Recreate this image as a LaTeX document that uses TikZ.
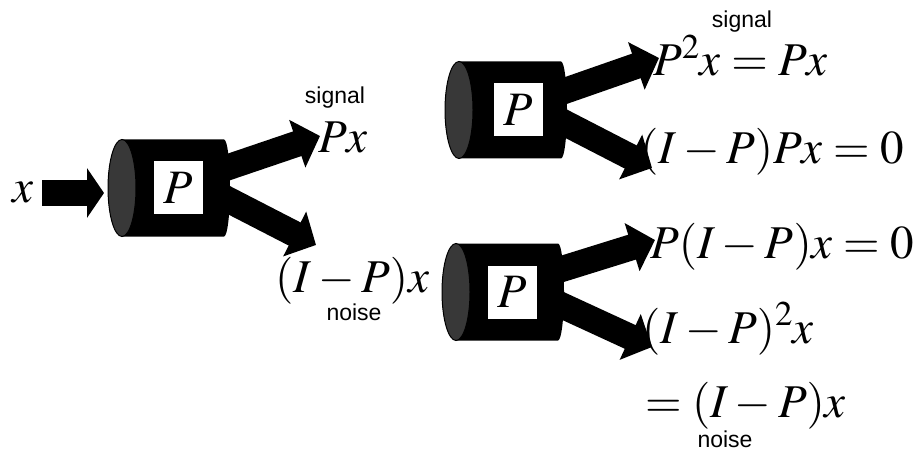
\documentclass[tikz,border=0pt]{standalone}
\usepackage{mathptmx}
\usepackage{fontspec}
\newfontfamily\lblfont{Liberation Sans}
\usetikzlibrary{arrows.meta}
\newcommand{\drawcyl}[4]{%
  \fill[black] (#1,#2-48.5) -- (#1+102,#2-48.5)
    arc[start angle=-90,end angle=90,x radius=6,y radius=48.5]
    -- (#1,#2+48.5) -- cycle;
  \draw[face] (#1,#2) ellipse[x radius=14, y radius=48.5];
  \node[pbox] (#3) at (#1+#4,#2) {$P$};}
\begin{document}
\begin{tikzpicture}[x=1pt,y=-1pt,
  fatarrow/.style={line width=26pt, draw=black, -{Triangle[width=49pt,length=24pt]}},
  inarrow/.style={line width=26pt, draw=black, -{Triangle[width=49pt,length=17pt]}},
  mathlbl/.style={inner sep=0pt, anchor=base west, font=\fontsize{47}{51}\selectfont},
  wordlbl/.style={inner sep=0pt, anchor=base, font=\lblfont\fontsize{23}{26}\selectfont},
  pbox/.style={fill=white, minimum width=49pt, minimum height=53pt, inner sep=0pt, font=\fontsize{48}{52}\selectfont},
  face/.style={fill=black!78, draw=black, line width=1pt}]
\useasboundingbox (0,0) rectangle (917,454);
\fill[white] (0,0) rectangle (917,454);

% texts
\node[mathlbl] (xin) at (12,203) {$x$};
\node[mathlbl] (px) at (318,153) {$Px$};
\node[mathlbl] (ipx) at (275,292) {$(I-P)x$};
\node[wordlbl] (sig1) at (335,104) {signal};
\node[wordlbl] (noi1) at (354,320) {noise};
\node[wordlbl] (sig2) at (742,28) {signal};
\node[mathlbl] (p2x) at (653,76) {$P^2x=Px$};
\node[mathlbl] (ippx) at (640,164) {$(I-P)Px=0$};
\node[mathlbl] (pipx) at (650,258) {$P(I-P)x=0$};
\node[mathlbl] (ip2x) at (642,343) {$(I-P)^2x$};
\node[mathlbl] (eqipx) at (645,417) {$=(I-P)x$};
\node[wordlbl] (noi2) at (725,447) {noise};

% arrow end points
\coordinate (in0) at (42,193);   \coordinate (in1) at (104,193);
\coordinate (a1s) at (214,172);  \coordinate (a1e) at (320,136);
\coordinate (a2s) at (215,193);  \coordinate (a2e) at (316,245);
\coordinate (a3s) at (553,95);   \coordinate (a3e) at (659,58);
\coordinate (a4s) at (555,118);  \coordinate (a4e) at (652,168);
\coordinate (a5s) at (549,273);  \coordinate (a5e) at (655,240);
\coordinate (a6s) at (550,300);  \coordinate (a6e) at (652,347);

\draw[inarrow] (in0) -- (in1);
\draw[fatarrow] (a1s) -- (a1e);
\draw[fatarrow] (a2s) -- (a2e);
\draw[fatarrow] (a3s) -- (a3e);
\draw[fatarrow] (a4s) -- (a4e);
\draw[fatarrow] (a5s) -- (a5e);
\draw[fatarrow] (a6s) -- (a6e);

% cylinders
\drawcyl{122}{188}{p1}{56}
\drawcyl{459}{110}{p2}{59}
\drawcyl{456}{292}{p3}{56}
\end{tikzpicture}
\end{document}
